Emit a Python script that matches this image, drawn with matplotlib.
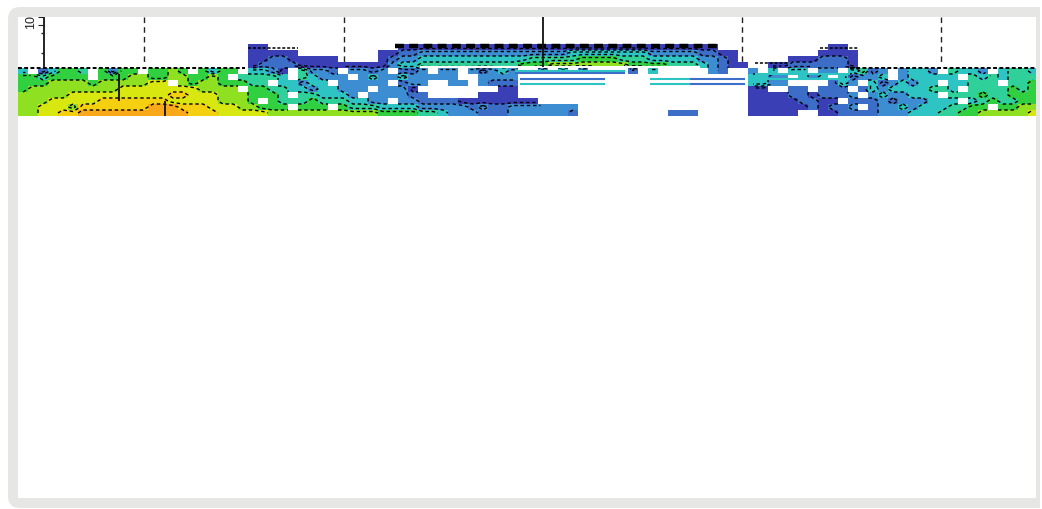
import numpy as np
import matplotlib
matplotlib.use("Agg")
import matplotlib.pyplot as plt
from matplotlib.colors import LinearSegmentedColormap
from matplotlib.patches import FancyBboxPatch

W, H = 1042, 510

# Section values, read by eye: one character per 10 px cell, '.' = no data
section_rows = [
    ".......... .......... ...00..... ........00 0000000000 0000000000 0000000000 .......... .00....... .......... ..",
    ".......... .......... ...00000.. ......0011 2222222222 2222233333 3332222211 00........ 0000...... .......... ..",
    ".......... .......... ...0011000 00....0122 3333333333 3444445555 4443333322 10.....000 1110...... .......... ..",
    ".......... .......... ...0111100 0000000233 4444444444 5556666666 6555544432 100..00111 1110...... .......... ..",
    "3.13554.52 55.5565.53 55.3320.42 21.2212.11 2.22.21232 ..2.3.2... .1.3.....2 1..2.3.33. 22.3412.23 32.4332.34 43",
    "5545555.55 5665566556 5.44443.43 222.232232 2222..2222 .......... .......... ...3322.32 3.31223.23 3333.43434 44",
    "5556666566 66677.6566 55544.3323 3.22222.12 2..22.2111 .......... .......... ...3322... .132.31232 33.33444.4 45",
    "5666666666 7777777766 66.5544332 33222.2220 ........00 .......... .......... ...00..11. 111.132333 3443.44445 45",
    "6666677777 7777788777 6665554.44 3332.22221 1.....0000 .......... .......... ...0000110 1112.23223 33.4445445 55",
    "6667777788 8888877777 6665.54445 4443322.22 1111000000 00........ .......... ...0000011 00.1112122 2333.34544 55",
    "6677768888 8889998887 7766555.55 5.54443333 2222212112 222222.... .......... ...0000001 0112.12232 3334455.55 66",
    "6677889999 9999999888 7777766666 6666665555 4432221112 222221.... .....111.. ...00000.. 0011112223 3344556666 67",
]
column_edges = np.arange(18, 1039, 10)
row_edges = np.arange(45, 118, 6)
contour_levels = [0.5, 1.5, 2.5, 3.5, 4.5, 5.5, 6.5, 7.5, 8.5]

# Thin horizontal streaks in the empty middle of the section
streak_y = [72, 74, 80, 85, 80, 85, 80, 85, 97, 75, 80]
streak_start = [515, 515, 520, 520, 650, 650, 690, 690, 750, 755, 760]
streak_end = [625, 625, 605, 605, 690, 690, 745, 745, 770, 850, 850]
streak_colour = ["#2fc4c4", "#3c6fc8", "#3c6fc8", "#2fc4c4", "#2fc4c4", "#2fc4c4",
                 "#3c6fc8", "#3c6fc8", "#3b3fb5", "#2fc4c4", "#2fc4c4"]

# Upper outline of the data: left edge, right edge, depth
outline_start = [18, 248, 395, 755, 820, 850]
outline_end = [245, 298, 718, 788, 858, 1036]
outline_y = [69, 49, 47, 64, 49, 69]
outline_width = [1.4, 1.1, 3.2, 1.1, 1.1, 1.4]

dashed_x = [144, 344, 742, 941]
dashed_top, dashed_bottom = 18, 66
solid_x = [44, 543, 119, 165]
solid_top = [18, 18, 75, 102]
solid_bottom = [69, 68, 102, 117]
minor_tick_y = [34, 54]
axis_label = "10"

palette = ["#3b3fb5", "#3c6fc8", "#3c8ed2", "#2fc4c4", "#2fd098",
           "#30d040", "#8ee020", "#d8e810", "#f4d010", "#f8a818"]

ncol = len(column_edges) - 1
rows = [r.replace(" ", "").ljust(ncol, ".")[:ncol] for r in section_rows]
grid = np.array([[np.nan if c == "." else float(c) for c in r] for r in rows])
masked = np.ma.masked_invalid(grid)

fig = plt.figure(figsize=(W / 100, H / 100), dpi=100, facecolor="white")

# Card behind the plot
card = fig.add_axes([0, 0, 1, 1], zorder=0)
card.set_xlim(0, W)
card.set_ylim(H, 0)
card.axis("off")
card.add_patch(FancyBboxPatch((16, 16), 1032, 485, boxstyle="round,pad=8,rounding_size=12",
                              fc="#e6e6e4", ec="none"))
card.add_patch(plt.Rectangle((18, 18), 1018, 481, fc="white", ec="none"))
card.add_patch(plt.Rectangle((1040, 0), 2, H, fc="white", ec="none"))

ax = fig.add_axes([18 / W, 1 - 117 / H, 1018 / W, 99 / H], zorder=1)
ax.set_xlim(18, 1036)
ax.set_ylim(117, 18)
ax.axis("off")

cmap = LinearSegmentedColormap.from_list("sect", palette)
ax.pcolormesh(column_edges, row_edges, masked, cmap=cmap, vmin=0, vmax=9, shading="flat")
xc = column_edges[:-1] + 5
yc = row_edges[:-1] + 3
ax.contour(xc, yc, grid, levels=contour_levels,
           colors="black", linewidths=1.0, linestyles=[(0, (2.5, 2))])
ax.hlines(streak_y, streak_start, streak_end, colors=streak_colour, lw=1.5)
for a, b, y, w in zip(outline_start, outline_end, outline_y, outline_width):
    ax.plot([a, b], [y, y], color="black", lw=w, linestyle=(0, (2, 1.2)))
ax.hlines([68], 420, 700, colors="white", lw=1.5)

ax.vlines(dashed_x, dashed_top, dashed_bottom, colors="#222222", lw=1.0, linestyles=[(0, (4, 3))])
ax.vlines(solid_x, solid_top, solid_bottom, colors="#111111", lw=1.3)
ax.hlines(minor_tick_y, 41, 44, colors="#222222", lw=1.0)
ax.hlines([18, 26], 38, 44, colors="#222222", lw=0.8)
ax.text(31, 22, axis_label, rotation=90, ha="center", va="center", fontsize=9,
        family="Liberation Sans", color="#222222", clip_on=True)

fig.savefig("out.png", dpi=100, facecolor="white")
